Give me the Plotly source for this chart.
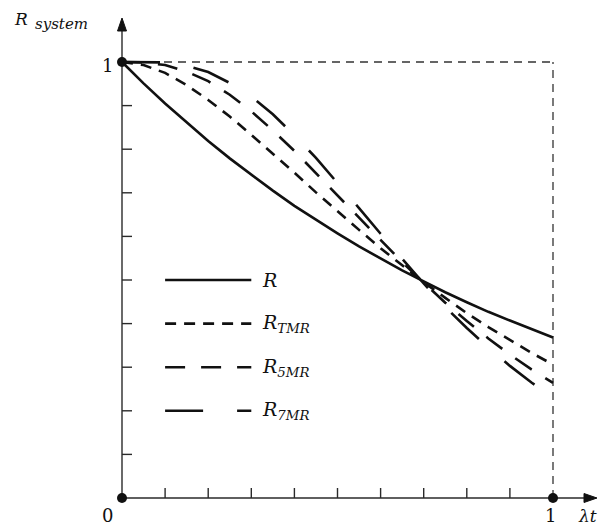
import plotly.graph_objects as go

# ---- data ----
lam_t = [0.0, 0.05, 0.10, 0.15, 0.20, 0.25, 0.30, 0.35, 0.40, 0.45, 0.50,
         0.55, 0.60, 0.65, 0.70, 0.75, 0.80, 0.85, 0.90, 0.95, 1.00]
r_simplex = [1.0, 0.951, 0.905, 0.861, 0.819, 0.779, 0.741, 0.705, 0.670, 0.638, 0.607,
             0.577, 0.549, 0.522, 0.497, 0.472, 0.449, 0.427, 0.407, 0.387, 0.368]
r_tmr = [1.0, 0.993, 0.975, 0.947, 0.913, 0.875, 0.833, 0.790, 0.746, 0.701, 0.657,
         0.615, 0.573, 0.533, 0.495, 0.459, 0.424, 0.392, 0.362, 0.333, 0.306]
r_5mr = [1.0, 0.999, 0.993, 0.978, 0.956, 0.925, 0.887, 0.843, 0.796, 0.745, 0.694,
         0.642, 0.591, 0.541, 0.494, 0.448, 0.406, 0.366, 0.329, 0.295, 0.264]
r_7mr = [1.0, 1.000, 0.999, 0.991, 0.977, 0.952, 0.921, 0.880, 0.832, 0.780, 0.723,
         0.665, 0.606, 0.549, 0.492, 0.438, 0.390, 0.345, 0.303, 0.265, 0.230]

series_names = ["R", "R_TMR", "R_5MR", "R_7MR"]
series_labels = ["<i>R</i>", "<i>R</i><sub><i>TMR</i></sub>",
                 "<i>R</i><sub><i>5MR</i></sub>", "<i>R</i><sub><i>7MR</i></sub>"]
series_values = [r_simplex, r_tmr, r_5mr, r_7mr]
series_dash = ["solid", "11px,8px", "20px,16px", "38px,34px"]
legend_y = [0.5, 0.4, 0.3, 0.2]
legend_x = [0.1, 0.3]
tick_vals = [0.1, 0.2, 0.3, 0.4, 0.5, 0.6, 0.7, 0.8, 0.9]

# ---- geometry ----
W, H = 601, 529
PX_X0, PX_X1 = 122, 553
PX_Y0, PX_Y1 = 498, 62
sx = (PX_X1 - PX_X0)          # px per unit x
sy = (PX_Y0 - PX_Y1)          # px per unit y
xr = [-PX_X0 / sx, (W - PX_X0) / sx]
yr = [-(H - PX_Y0) / sy, PX_Y0 / sy]

ink = "#111111"
axc = "#2a2a2a"
serif = "DejaVu Serif"
LW = 2.6

fig = go.Figure()

for name, vals, dash in zip(series_names, series_values, series_dash):
    fig.add_trace(go.Scatter(x=lam_t, y=vals, mode="lines", name=name,
                             line=dict(color=ink, width=LW, dash=dash),
                             showlegend=False, hoverinfo="skip"))

# in-plot legend
for name, ly, dash in zip(series_names, legend_y, series_dash):
    fig.add_trace(go.Scatter(x=legend_x, y=[ly, ly], mode="lines",
                             line=dict(color=ink, width=LW, dash=dash),
                             showlegend=False, hoverinfo="skip"))

# corner dots
fig.add_trace(go.Scatter(x=[0, 0, 1], y=[0, 1, 0], mode="markers",
                         marker=dict(color=ink, size=10), showlegend=False,
                         hoverinfo="skip", cliponaxis=False))

shapes = []
# axes
shapes.append(dict(type="line", x0=0, y0=0, x1=1.08, y1=0, line=dict(color=axc, width=1.4)))
shapes.append(dict(type="line", x0=0, y0=0, x1=0, y1=1.08, line=dict(color=axc, width=1.4)))
# arrow heads
tipx, basex, hw_y = (597 - PX_X0) / sx, (584 - PX_X0) / sx, 4.5 / sy
shapes.append(dict(type="path", path=f"M {tipx},0 L {basex},{hw_y} L {basex},{-hw_y} Z",
                   fillcolor=ink, line=dict(color=ink, width=1)))
tipy, basey, hw_x = (PX_Y0 - 18) / sy, (PX_Y0 - 31) / sy, 4.5 / sx
shapes.append(dict(type="path", path=f"M 0,{tipy} L {hw_x},{basey} L {-hw_x},{basey} Z",
                   fillcolor=ink, line=dict(color=ink, width=1)))
# ticks
tl_x = 10 / sx
tl_y = 10 / sy
for t in tick_vals:
    shapes.append(dict(type="line", x0=0, y0=t, x1=tl_x, y1=t, line=dict(color=axc, width=1.4)))
    shapes.append(dict(type="line", x0=t, y0=0, x1=t, y1=tl_y, line=dict(color=axc, width=1.4)))
# dashed frame
shapes.append(dict(type="line", x0=0, y0=1, x1=1, y1=1, line=dict(color="#333", width=1.3, dash="8px,6px")))
shapes.append(dict(type="line", x0=1, y0=0, x1=1, y1=1, line=dict(color="#333", width=1.3, dash="8px,6px")))
for s in shapes:
    s["layer"] = "below"

ann = []
def px2x(p):
    return (p - PX_X0) / sx
def px2y(p):
    return (PX_Y0 - p) / sy

ann.append(dict(x=px2x(12), y=px2y(19), text="<i>R</i>", xanchor="left", yanchor="middle",
                font=dict(family=serif, size=17, color=ink)))
ann.append(dict(x=px2x(33), y=px2y(24), text="<i>system</i>", xanchor="left", yanchor="middle",
                font=dict(family=serif, size=15, color=ink)))
ann.append(dict(x=px2x(107), y=px2y(65), text="1", xanchor="center", yanchor="middle",
                font=dict(family=serif, size=18, color=ink)))
ann.append(dict(x=px2x(107), y=px2y(515), text="0", xanchor="center", yanchor="middle",
                font=dict(family=serif, size=18, color=ink)))
ann.append(dict(x=px2x(550), y=px2y(515), text="1", xanchor="center", yanchor="middle",
                font=dict(family=serif, size=18, color=ink)))
ann.append(dict(x=px2x(599), y=px2y(516), text="<i>λt</i>", xanchor="right", yanchor="middle",
                font=dict(family=serif, size=17, color=ink)))
for lbl, ly in zip(series_labels, legend_y):
    ann.append(dict(x=px2x(260), y=ly, text=lbl, xanchor="left", yanchor="middle",
                    font=dict(family=serif, size=19, color=ink)))
for a in ann:
    a["showarrow"] = False
    a["xref"] = "x"
    a["yref"] = "y"

fig.update_layout(
    width=W, height=H,
    margin=dict(l=0, r=0, t=0, b=0),
    paper_bgcolor="white", plot_bgcolor="white",
    xaxis=dict(range=xr, visible=False, fixedrange=True),
    yaxis=dict(range=yr, visible=False, fixedrange=True),
    shapes=shapes, annotations=ann,
    showlegend=False,
)

fig.write_html("out.html")
